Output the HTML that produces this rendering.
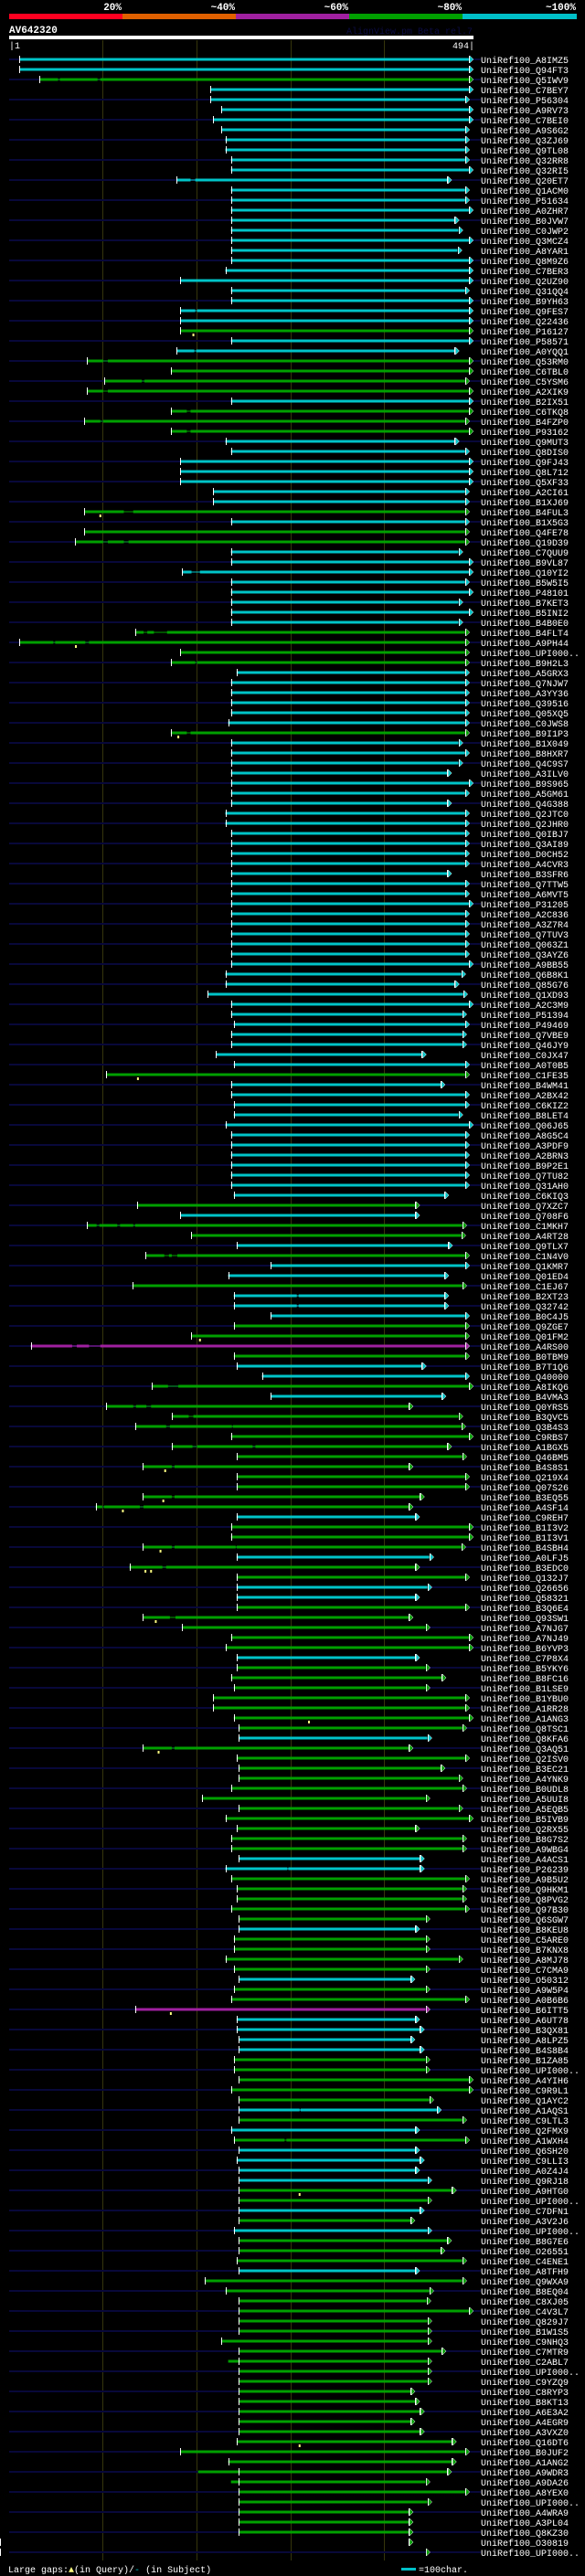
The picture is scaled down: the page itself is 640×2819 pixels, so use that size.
<!DOCTYPE html>
<html><head><meta charset="utf-8">
<style>
html,body{margin:0;padding:0;background:#000;}
body{width:640px;height:2819px;overflow:hidden;}
svg{display:block;}
text{font-family:"Liberation Mono","DejaVu Sans Mono",monospace;}
</style></head>
<body>
<svg id="chart" width="640" height="2819" viewBox="0 0 640 2819" xmlns="http://www.w3.org/2000/svg">
  <g>
    <rect x="10" y="15" width="124" height="6" fill="#ff0020"/>
    <rect x="134" y="15" width="124" height="6" fill="#e06000"/>
    <rect x="258" y="15" width="124" height="6" fill="#a020a0"/>
    <rect x="382" y="15" width="124" height="6" fill="#00a000"/>
    <rect x="506" y="15" width="125" height="6" fill="#00c0c8"/>
    <text x="133" y="11" fill="#fff" font-size="11" font-weight="bold" text-anchor="end">20%</text>
    <text x="257" y="11" fill="#fff" font-size="11" font-weight="bold" text-anchor="end">~40%</text>
    <text x="381" y="11" fill="#fff" font-size="11" font-weight="bold" text-anchor="end">~60%</text>
    <text x="505" y="11" fill="#fff" font-size="11" font-weight="bold" text-anchor="end">~80%</text>
    <text x="630" y="11" fill="#fff" font-size="11" font-weight="bold" text-anchor="end">~100%</text>
  </g>
  <text x="10" y="36" fill="#fff" font-size="11" font-weight="bold">AV642320</text>
  <text x="517" y="37" fill="#0c0c44" font-size="10" text-anchor="end">AlignView.pm Beta rel.7</text>
  <rect x="10" y="39" width="508" height="4" fill="#fff"/>
  <text x="10" y="53" fill="#fff" font-size="10">|1</text>
  <text x="519" y="53" fill="#fff" font-size="10" text-anchor="end">494|</text>
  <g id="grid"></g>
  <g id="rows"></g>
  <g>
    <text x="9" y="2815" fill="#fff" font-size="10">Large gaps:<tspan fill="#ffff80">▲</tspan>(in Query)/<tspan fill="#00c0c8">-</tspan> (in Subject)</text>
    <rect x="439" y="2810" width="16" height="3" fill="#00c0c8"/>
    <text x="458" y="2815" fill="#fff" font-size="10">=100char.</text>
  </g>
</svg>
<script>
const queryLength = 494;
const labels = ["A8IMZ5","Q94FT3","Q5IWV9","C7BEY7","P56304","A9RV73","C7BEI0","A9S6G2","Q3ZJ69","Q9TL08","Q32RR8","Q32RI5","Q20ET7","Q1ACM0","P51634","A0ZHR7","B0JVW7",
"C0JWP2","Q3MCZ4","A8YAR1","Q8M9Z6","C7BER3","Q2UZ90","Q31QQ4","B9YH63","Q9FES7","Q22436","P16127","P58571","A0YQQ1","Q53RM0","C6TBL0","C5YSM6","A2XIK9","B2IX51","C6TKQ8","B4FZP0","P93162","Q9MUT3","Q8DIS0","Q9FJ43","Q8L712","Q5XF33","A2CI61","B1XJ69","B4FUL3","B1X5G3","Q4FE78",
"Q19D39","C7QUU9","B9VL87","Q10YI2","B5W5I5","P48101","B7KET3","B5INI2","B4B0E0","B4FLT4","A9PH44","UPI000..","B9H2L3","A5GRX3","Q7NJW7","A3YY36","Q39516","Q05XQ5","C0JWS8","B9I1P3","B1X049","B8HXR7","Q4C9S7","A3ILV0","B9S965","A5GM61","Q4G388","Q2JTC0",
"Q2JHR0","Q0IBJ7","Q3AI89","D0CH52","A4CVR3","B3SFR6","Q7TTW5","A6MVT5","P31205","A2C836","A3Z7R4","Q7TUV3","Q063Z1","Q3AYZ6","A9BB55","Q6B8K1","Q85G76","Q1XD93","A2C3M9","P51394","P49469","Q7VBE9","Q46JY9","C0JX47","A0T0B5","C1FE35","B4WM41","A2BX42","C6KIZ2",
"B8LET4","Q06J65","A8G5C4","A3PDF9","A2BRN3","B9P2E1","Q7TU82","Q31AH0","C6KIQ3","Q7XZC7","Q708F6","C1MKH7","A4RT28","Q9TLX7","C1N4V0","Q1KMR7","Q01ED4","C1EJ67","B2XT23","Q32742","B0C4J5","Q9ZGE7","Q01FM2","A4RS00","B0TBM9","B7T1Q6","Q40000","A8IKQ6","B4VMA3",
"Q0YRS5","B3QVC5","Q3B4S3","C9RBS7","A1BGX5","Q46BM5","B4S8S1","Q219X4","Q07S26","B3EQ55","A4SF14","C9REH7","B1I3V2","B1I3V1","B4SBH4","A0LFJ5","B3EDC0","Q132J7","Q26656","Q58321","B3Q6E4","Q93SW1","A7NJG7","A7NJ49","B6YVP3","C7P8X4","B5YKY6","B8FC16",
"B1LSE9","B1YBU0","A1RR28","A1ANG3","Q8TSC1","Q8KFA6","Q3AQ51","Q2ISV0","B3EC21","A4YNK9","B0UDL8","A5UUI8","A5EQB5","B5IVB9","Q2RX55","B8G7S2","A9WBG4","A4ACS1","P26239","A9B5U2","Q9HKM1","Q8PVG2","Q97B30","Q6SGW7","B8KEU8","C5ARE0","B7KNX8","A8MJ78","C7CMA9",
"O50312","A9W5P4","A0B6B6","B6ITT5","A6UT78","B3QX81","A8LPZ5","B4S8B4","B1ZA85","UPI000..","A4YIH6","C9R9L1","Q1AYC2","A1AQS1","C9LTL3","Q2FMX9","A1WXH4","Q6SH20","C9LLI3","A0Z4J4","Q9RJ18","A9HTG0","UPI000..","C7DFN1","A3V2J6","UPI000..","B8G7E6","O26551","C4ENE1",
"A8TFH9","Q9WXA9","B8EQ04","C8XJ05","C4V3L7","Q829J7","B1W1S5","C9NHQ3","C7MTR9","C2ABL7","UPI000..","C9YZQ9","C8RYP3","B8KT13","A6E3A2","A4EGR9","A3VXZ0","Q16DT6","B0JUF2","A1ANG2","A9WDR3","A9DA26","A8YEX0","UPI000..","A4WRA9","A3PL04","Q8KZ30","O30819","UPI000.."];
const starts = [11,11,32,214,214,226,217,226,230,230,236,236,178,236,236,236,236,
236,236,236,236,230,182,236,236,182,182,182,236,178,83,172,101,83,236,172,80,172,230,236,182,182,182,217,217,80,236,80,
70,236,236,184,236,236,236,236,236,134,11,182,172,242,236,236,236,236,233,172,236,236,236,236,236,236,236,230,
230,236,236,236,236,236,236,236,236,236,236,236,236,236,236,230,230,211,236,236,239,236,236,220,239,103,236,236,239,
239,230,236,236,236,236,236,236,239,136,182,83,194,242,145,278,233,131,239,239,278,239,194,23,239,242,269,152,278,
103,173,134,236,173,242,142,242,242,142,92,242,236,236,142,242,128,242,242,242,242,142,184,236,230,242,242,236,
239,217,217,239,244,244,142,242,244,244,236,205,244,230,242,236,236,244,230,236,242,242,236,244,244,239,239,230,239,
244,239,236,134,242,242,244,244,239,239,244,236,244,244,244,236,239,244,242,244,244,244,244,244,244,239,244,
244,242,244,208,230,244,244,244,244,226,244,244,244,244,244,244,244,244,244,242,182,233,244,244,244,244,244,244,244];
const ends = [489,489,489,489,485,489,489,485,485,485,485,489,466,485,485,489,474,
478,489,477,489,489,489,485,489,489,489,489,489,474,489,489,485,489,489,489,485,489,474,485,489,489,489,485,485,485,485,485,
485,478,489,489,485,489,478,489,478,485,485,485,485,485,485,485,485,485,485,485,478,485,478,466,489,485,466,485,
485,485,485,485,485,466,485,485,489,485,485,485,485,485,489,481,474,483,489,482,485,482,482,439,485,485,459,485,485,
478,489,485,485,485,485,485,485,463,432,432,482,481,467,485,485,463,482,463,463,485,485,485,485,485,439,485,489,460,
425,478,481,489,466,482,425,485,485,437,425,432,489,489,481,447,432,485,445,432,485,425,443,489,489,432,443,460,
443,485,485,489,482,445,425,485,459,478,482,443,478,489,432,482,482,437,437,485,482,482,485,443,432,443,443,478,443,
427,443,485,443,432,437,427,437,443,443,489,489,447,455,482,432,485,432,437,432,445,471,445,437,427,445,466,459,482,
432,482,447,444,489,445,445,445,460,445,445,445,427,432,437,427,437,471,485,471,466,443,485,445,425,425,425,425,443];
const identityBlocks = [
 "ccgcccccccccccccc",
 "ccccccccccgccggggcgggcccccccgcg",
 "gccccccccggggccccccgcccccccc",
 "cccccccccccccccccccccccccgccc",
 "cccccccccgcggcgccgcccggmgccgc",
 "gggggggggggcgggcggccgggggcgg",
 "gggggcgggggggggggccgggggcgggg",
 "cggmccccgggggcgcgccccggcgcggg",
 "cgggggggggggggggggggggggggggg"
];
const identity = identityBlocks.join('');
const gaps = {2:[[52,54],[94,97]],12:[[193,198]],25:[[198,200]],29:[[197,199]],30:[[100,105]],32:[[141,144]],33:[[100,105]],35:[[189,193]],36:[[97,100]],37:[[189,193]],45:[[122,132]],
48:[[100,105],[122,127]],51:[[194,203]],57:[[143,147],[154,168]],58:[[47,49],[81,85]],60:[[198,200]],67:[[189,193]],
116:[[93,96],[115,118],[132,134]],119:[[165,170],[173,179]],123:[[306,308]],124:[[306,308]],128:[[67,72],[85,97]],132:[[169,180]],
134:[[132,135],[146,151]],135:[[191,196]],136:[[167,171],[237,238]],138:[[195,200],[259,262]],140:[[173,176]],143:[[173,176]],144:[[99,101],[139,143]],148:[[173,176],[241,242]],150:[[163,167]],155:[[171,177]],
168:[[173,176]],180:[[296,297]],204:[[309,310]],207:[[293,295]],229:[[230,233]],240:[[199,201]],241:[[234,236]]};
const queryInserts = {27:[196],45:[97],58:[71],67:[180],101:[137],127:[203],140:[166],143:[164],144:[121],148:[161],150:[145,151],155:[156],165:[319],168:[159],194:[172],212:[309],237:[309]};

const colorMap = {c:"#00c4c8", g:"#00a000", m:"#a020a0"};
const X0 = 10, PX = 508/queryLength;
function xScale(p){ return X0 + p*PX; }
function yRow(i){ return 65 + i*11; }
const NS = "http://www.w3.org/2000/svg";
function mk(tag, attrs, parent){ const e=document.createElementNS(NS,tag); for(const k in attrs) e.setAttribute(k,attrs[k]); parent.appendChild(e); return e; }

const grid = document.getElementById('grid');
for (let t=100; t<queryLength; t+=100){
  const gx = Math.round(xScale(t))-0.5;
  const l = mk('line',{x1:gx,x2:gx,y1:44,y2:2802,stroke:'#36360c','stroke-width':1},grid);
  
  
}

const rowsG = document.getElementById('rows');
for (let i=0;i<labels.length;i++){
  const y = yRow(i);
  const g = mk('g',{},rowsG);
  
  
  if (i%2===0){
    const bg = mk('rect',{x:10,y:y-1,width:516,height:2,fill:'#08083a'},g);
    
    
  }
  const col = colorMap[identity[i]] || colorMap.g;
  const s = starts[i], e = ends[i];
  const gl = (gaps[i]||[]).slice().sort((a,b)=>a[0]-b[0]);
  const thin = mk('rect',{x:xScale(s),y:y-0.5,width:xScale(e)-xScale(s),height:1,fill:col},g);
  
  
  let cur = s;
  const segs = [];
  for (const gp of gl){ segs.push([cur,gp[0]]); cur = gp[1]; }
  segs.push([cur,e]);
  for (const sg of segs){
    if (sg[1]<=sg[0]) continue;
    const r = mk('rect',{x:xScale(sg[0]),y:y-1.5,width:xScale(sg[1])-xScale(sg[0]),height:3,fill:col},g);
    
    
  }
  const st = mk('rect',{x:Math.round(xScale(s)),y:y-4,width:1,height:8,fill:'#fff'},g);
  
  
  const ex = xScale(e);
  const et = mk('rect',{x:Math.round(ex),y:y-4,width:1,height:8,fill:'#fff'},g);
  
  
  const ar = mk('polygon',{points:(ex+1)+','+(y-4)+' '+(ex+5)+','+y+' '+(ex+1)+','+(y+4),fill:col,stroke:'#fff','stroke-width':0.5},g);
  
  
  for (const q of (queryInserts[i]||[])){
    const m = mk('rect',{x:xScale(q)-1,y:y+3,width:2,height:3,fill:'#ffff80'},g);
    
    
  }
  const tx = mk('text',{x:526,y:y+4,fill:'#fff','font-size':10},g);
  tx.textContent = 'UniRef100_'+labels[i];
  
  
}
</script>
</body></html>
